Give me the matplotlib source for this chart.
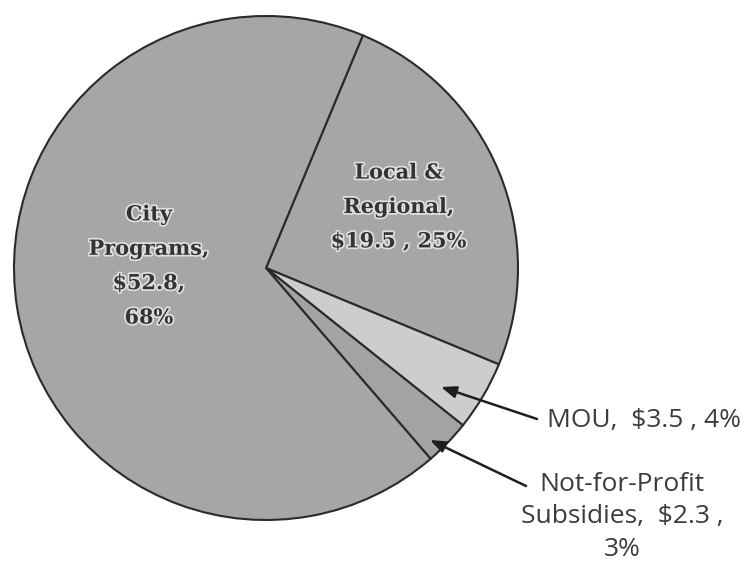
import matplotlib
matplotlib.use("Agg")
import matplotlib.pyplot as plt
import matplotlib.patheffects as pe

categories = ["Local &\nRegional,", "MOU,", "Not-for-Profit\nSubsidies,", "City\nPrograms,"]
values = [19.5, 3.5, 2.3, 52.8]
percent_labels = ["25%", "4%", "3%", "68%"]
colors = ["#a6a6a6", "#cdcdcd", "#a3a3a3", "#a6a6a6"]

W, H = 752, 565
fig = plt.figure(figsize=(W / 100, H / 100), dpi=100)
cx, cy, R = 266, 268, 252
ax = fig.add_axes([(cx - R) / W, (H - cy - R) / H, 2 * R / W, 2 * R / H])

wedges, _ = ax.pie(values, colors=colors, startangle=67.4, counterclock=False,
                   radius=1.0,
                   wedgeprops=dict(edgecolor="#2a2a2a", linewidth=1.5))
ax.set_xlim(-1, 1)
ax.set_ylim(-1, 1)
ax.set_aspect("equal")
ax.axis("off")

def d(px, py):
    return ((px - cx) / R, (cy - py) / R)

halo = [pe.withStroke(linewidth=2.5, foreground="#e0e0e0")]
inner_font = dict(family="DejaVu Serif", weight="bold", fontsize=15,
                  color="#333333", ha="center", va="center",
                  linespacing=1.9, path_effects=halo)

# Local & Regional label (inside)
ax.text(*d(399, 207), f"{categories[0]}\n${values[0]} , {percent_labels[0]}", **inner_font)
# City Programs label (inside)
ax.text(*d(149, 266), f"{categories[3]}\n${values[3]},\n{percent_labels[3]}", **inner_font)

outer_font = dict(family="Open Sans", fontsize=19, color="#3c3c3c")
arrow = dict(arrowstyle="-|>,head_length=0.9,head_width=0.35",
             color="#1e1e1e", lw=1.8, shrinkA=0, shrinkB=0)

ax.text(*d(547, 421), f"{categories[1]}  ${values[1]} , {percent_labels[1]}",
        ha="left", va="center", clip_on=False, **outer_font)
ax.annotate("", xy=d(441, 387), xytext=d(537, 419), annotation_clip=False,
            arrowprops=arrow)

nfp1, nfp2 = categories[2].split("\n")
ax.text(*d(622, 517), f"{nfp1}\n{nfp2}  ${values[2]} ,\n{percent_labels[2]}",
        ha="center", va="center", clip_on=False, linespacing=1.42, **outer_font)
ax.annotate("", xy=d(430, 440), xytext=d(526, 486), annotation_clip=False,
            arrowprops=arrow)

fig.savefig("out.png", dpi=100, facecolor="white")
